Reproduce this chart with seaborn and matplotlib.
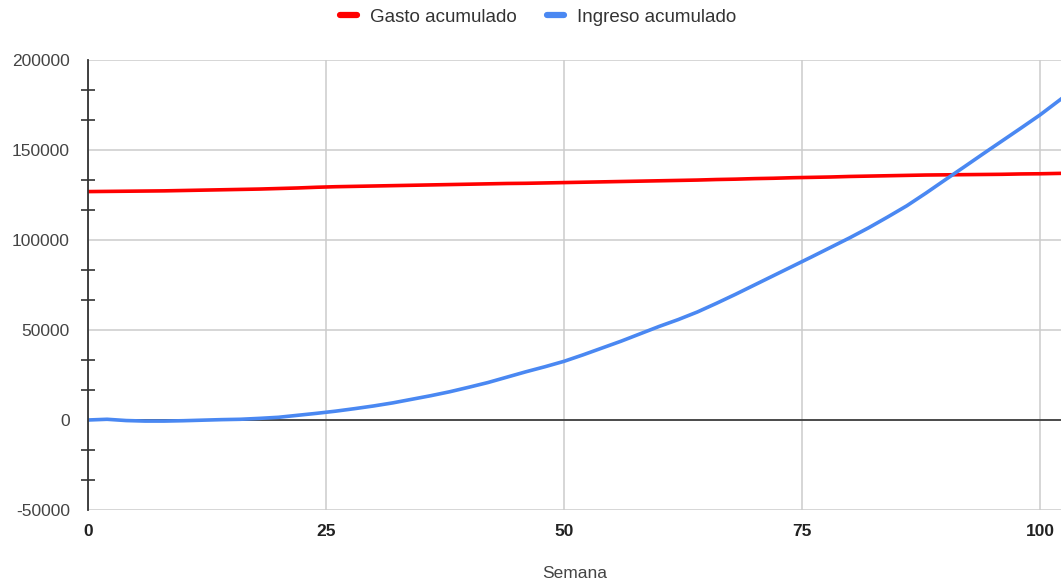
import numpy as np
import pandas as pd
import matplotlib
matplotlib.use("Agg")
import matplotlib.pyplot as plt
from matplotlib.ticker import MultipleLocator, FixedLocator
from matplotlib.lines import Line2D
import seaborn as sns

# Weekly cumulative values (every two weeks)
semanas = [0, 2, 4, 6, 8, 10, 12, 14, 16, 18, 20, 22, 24, 26, 28, 30, 32, 34, 36, 38,
           40, 42, 44, 46, 48, 50, 52, 54, 56, 58, 60, 62, 64, 66, 68, 70, 72, 74, 76,
           78, 80, 82, 84, 86, 88, 90, 92, 94, 96, 98, 100, 102, 103]

gasto_acumulado = [126900, 127000, 127100, 127200, 127300, 127500, 127700, 127900, 128100,
                   128300, 128600, 128900, 129300, 129600, 129800, 130000, 130200, 130400,
                   130600, 130800, 131000, 131200, 131400, 131500, 131700, 131900, 132100,
                   132300, 132500, 132700, 132900, 133100, 133300, 133600, 133800, 134100,
                   134300, 134600, 134800, 135000, 135300, 135500, 135700, 135900, 136100,
                   136200, 136300, 136400, 136500, 136700, 136800, 137000, 137100]

ingreso_acumulado = [0, 400, -300, -600, -600, -400, -100, 200, 400, 900, 1500, 2600, 3700,
                     4900, 6300, 7800, 9500, 11500, 13500, 15700, 18200, 20800, 23800, 26800,
                     29600, 32600, 36200, 40000, 43800, 47900, 52000, 55800, 60000, 64800,
                     69800, 75000, 80200, 85400, 90600, 95900, 101200, 106800, 112800, 119000,
                     126000, 133300, 140500, 147800, 155000, 162200, 169500, 177500, 181500]

series_names = ["Gasto acumulado", "Ingreso acumulado"]
series_colors = ["#ff0000", "#4a88f2"]

df = pd.DataFrame({
    "Semana": semanas * 2,
    "valor": gasto_acumulado + ingreso_acumulado,
    "serie": [series_names[0]] * len(semanas) + [series_names[1]] * len(semanas),
})

sns.set_theme(style="white")
plt.rcParams["font.family"] = ["Liberation Sans", "DejaVu Sans"]
plt.rcParams["axes.unicode_minus"] = False

fig = plt.figure(figsize=(10.61, 5.83), dpi=100)
ax = fig.add_axes([88 / 1061, 1 - 510 / 583, 1 - 88 / 1061, (510 - 60) / 583])

sns.lineplot(data=df, x="Semana", y="valor", hue="serie",
             palette=dict(zip(series_names, series_colors)),
             linewidth=2.6, ax=ax, legend=False, zorder=3)

ax.set_xlim(0, 102.2)
ax.set_ylim(-50000, 200000)

# grid
ax.xaxis.set_major_locator(MultipleLocator(25))
ax.yaxis.set_major_locator(MultipleLocator(50000))
ax.grid(True, color="#cccccc", linewidth=1.1, zorder=0)
ax.axhline(0, color="#333333", linewidth=1.2, zorder=2)

for side in ["top", "right", "bottom"]:
    ax.spines[side].set_visible(False)
ax.spines["left"].set_color("#333333")
ax.spines["left"].set_linewidth(1.3)
ax.spines["left"].set_zorder(4)

# minor ticks on y axis
minor_vals = [v for v in np.arange(-50000, 200001, 50000 / 3)
              if abs(round(v) % 50000) > 1]
ax.yaxis.set_minor_locator(FixedLocator(minor_vals))
ax.tick_params(axis="y", which="minor", direction="inout", length=10,
               width=1.2, color="#333333", left=True)
ax.tick_params(axis="y", which="major", length=0, pad=13,
               labelsize=12.5, labelcolor="#444444")
ax.tick_params(axis="x", which="major", length=0, pad=10,
               labelsize=12.5, labelcolor="#222222")
for lab in ax.get_xticklabels():
    lab.set_fontweight("bold")

ax.set_xlabel("")
ax.set_ylabel("")
fig.text((88 + 1061) / 2 / 1061, 1 - 573 / 583, "Semana", fontsize=12.5,
         color="#444444", ha="center", va="center")

# legend
handles = [Line2D([0], [0], color=c, linewidth=4.5) for c in series_colors]
fig.legend(handles, series_names, loc="center", bbox_to_anchor=(538 / 1061, 1 - 17 / 583),
           ncol=2, frameon=False, fontsize=13.5, handlelength=0.9, handletextpad=0.7,
           columnspacing=1.6, labelcolor="#333333")

fig.savefig("out.png", dpi=100)
